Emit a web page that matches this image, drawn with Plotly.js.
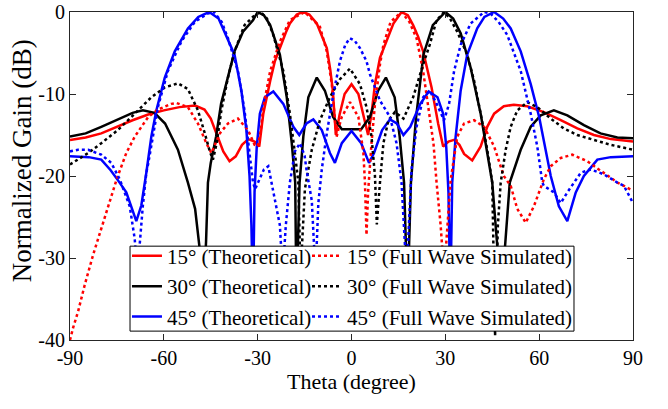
<!DOCTYPE html>
<html>
<head>
<meta charset="utf-8">
<script src="https://cdn.plot.ly/plotly-3.0.1.min.js"></script>
<style>html,body{margin:0;padding:0;background:#fff;}#chart{width:668px;height:409px;}</style>
</head>
<body>
<div id="chart"></div>
<script>
// ---- data (theta in degrees, normalized gain in dB) ----
const thetaRedTheo = [-90,-85,-80,-75,-70,-65,-60,-55,-50,-47,-45,-43,-41,-39,-37,-35,-33,-31,-29.5,-28.2,-27,-26,-24.5,-23,-21,-19.7,-17.5,-15.5,-13.5,-11.1,-9.5,-7.9,-6.8,-6.0,-5.0,-3.8,-2.2,0,2.2,3.8,5.3,6.4,7.5,9.1,10.7,13.4,16,18,19.7,21.3,22.9,24.3,25.6,27.7,29.3,31,32.8,34.5,36,38.6,41.3,43.4,45.6,48.7,51.9,56.2,61.5,66.9,72.2,77.5,82.9,90];
const gainRedTheo  = [-15.6,-15.3,-14.8,-14.0,-13.2,-12.5,-12.0,-11.6,-11.4,-11.9,-13.0,-15.0,-17.0,-18.2,-17.6,-16.2,-15.5,-15.8,-16.4,-12.4,-10.0,-8.4,-6.0,-4.4,-2.5,-1.4,-0.3,0,-0.3,-1.4,-2.8,-4.4,-7.0,-9.5,-15.0,-12.5,-10.0,-8.8,-10.0,-12.5,-15.0,-12.4,-8.8,-5.6,-4.0,-1.4,0,-0.4,-1.6,-3.0,-4.8,-7.0,-9.2,-13.6,-16.4,-15.8,-15.6,-16.2,-17.3,-18.1,-16.4,-14.0,-12.4,-11.5,-11.3,-11.5,-12.2,-13.2,-14.2,-15.0,-15.5,-15.8];

const thetaBlackTheo = [-90,-85,-80,-75,-70,-66.7,-63,-59.6,-55.5,-52.3,-50,-48.5,-47.4,-46.5,-45.9,-45,-43.3,-41.7,-39.5,-37.4,-34.7,-31.5,-30,-28,-26,-22.9,-20.7,-19.1,-18,-17.6,-16.6,-15.4,-13.8,-11.1,-8.5,-5.9,-3.1,0,3.1,5.9,8.5,11,13.8,15.4,16.8,17.9,19,20.6,23,26,30,32.5,34.9,38.1,41.3,43.4,45,46.5,47.8,49.2,50.6,54.1,57.3,60.5,64.7,69,74.3,79.6,85,90];
const gainBlackTheo  = [-15.2,-14.8,-14.0,-13.1,-12.3,-12.0,-12.3,-13.6,-16.8,-20.8,-24.0,-29.0,-35.0,-28.0,-20.8,-18.4,-15.2,-11.2,-8.0,-4.8,-2.4,-1.0,0,-0.4,-1.6,-5.2,-10.4,-16.0,-20.8,-35.0,-20.8,-15.2,-10.4,-8.0,-9.6,-12.8,-14.3,-14.3,-14.3,-12.8,-9.6,-8.0,-10.4,-15.2,-20.8,-35.0,-20.8,-13.0,-5.2,-1.6,0,-0.8,-2.6,-6.8,-12.4,-17.2,-20.8,-28.0,-35.0,-28.0,-20.8,-16.8,-14.0,-12.6,-12.0,-12.6,-13.8,-14.8,-15.3,-15.4];

const thetaBlueTheo = [-90,-84,-80,-77,-74.7,-72,-68.8,-67.2,-65.6,-64,-62.4,-59.7,-56.5,-52.3,-49,-45.5,-42.5,-40.6,-37.4,-35.2,-33.6,-32.6,-32,-31.5,-31,-30.3,-29.3,-27.7,-25,-21.8,-18.6,-16.7,-14.4,-12.2,-9.5,-6.9,-5.3,-3.1,0,3.1,5.6,7.2,9.8,12.3,14.5,16.6,18.8,22,24.7,27.5,29.3,30.3,31,31.6,32.2,33.3,34.9,37,40.2,42.5,45.6,48.5,50.9,54.1,57.3,60,62.1,63.7,66.3,69,71.7,74.3,78.6,82.9,90];
const gainBlueTheo  = [-17.6,-17.7,-18.0,-19.3,-20.5,-22.0,-25.5,-23.6,-19.6,-15.2,-12.0,-8.0,-4.8,-2.0,-0.6,0,-0.8,-2.4,-5.2,-9.6,-14.4,-20.0,-26.0,-35.0,-22.0,-16.5,-12.4,-10.4,-9.7,-11.2,-14.0,-15.0,-13.6,-13.1,-14.4,-17.2,-18.4,-16.0,-14.5,-16.0,-18.4,-17.2,-14.4,-13.1,-13.6,-15.0,-14.0,-11.2,-9.7,-10.4,-12.4,-16.5,-22.0,-35.0,-20.8,-15.2,-9.6,-5.2,-2.0,-0.6,0,-0.8,-2.0,-4.8,-8.8,-12.8,-16.8,-20.0,-23.7,-25.5,-22.0,-20.0,-18.0,-17.7,-17.6];

const thetaRedSim = [-90,-89,-87.4,-85.3,-82.6,-80,-77.3,-75,-72,-69.3,-65,-61.9,-57.6,-56,-52.3,-49.1,-46.4,-44.8,-42.1,-39.5,-36.3,-33.1,-31,-30,-29,-28.2,-26,-22.9,-19.7,-15,-10.1,-7.9,-6.3,-5.5,-4.8,-4,-3.1,-0.5,2.2,3.8,4.3,4.8,5.3,6.4,7.5,9.1,10.2,12.5,16,18.5,20.8,22.9,24.5,26.2,27.2,28.5,29.6,30.8,31.7,33.8,36,39.2,42.4,45.6,48.7,50.9,53,55.7,58.3,61.5,63.7,66.9,70.6,75.4,80.7,85,87.1,90];
const gainRedSim  = [-40.0,-38.5,-36.5,-33.3,-29.6,-26.5,-23.3,-20.3,-17.2,-15.2,-12.8,-11.9,-11.2,-11.1,-11.6,-13.6,-16.0,-17.2,-14.8,-13.6,-13.0,-14.4,-16.2,-16.4,-14.5,-11.6,-7.2,-3.6,-1.0,0,-1.8,-4.8,-8.8,-12.0,-15.3,-14.0,-12.8,-11.0,-12.8,-17.2,-20.8,-27.2,-22.0,-16.0,-11.2,-6.4,-4.0,-1.2,0,-1.2,-3.2,-7.2,-11.2,-16.0,-20.8,-26.0,-32.0,-26.0,-20.5,-15.2,-13.6,-13.2,-14.0,-16.4,-20.0,-21.2,-24.0,-25.7,-23.7,-20.4,-18.8,-17.8,-17.4,-18.2,-19.6,-20.8,-21.2,-21.8];

const thetaBlackSim = [-90,-87.4,-84.2,-80,-74.7,-69.3,-64,-59.7,-55.5,-52.3,-49.1,-46.9,-45.3,-44.3,-43.1,-41.6,-39.5,-37.4,-34.2,-31,-29,-27,-25,-21.8,-19.7,-18.1,-17,-16.3,-15.5,-14.9,-12.7,-10.1,-6.9,-3.7,-0.5,2.7,4.8,6.4,7.5,8.1,9.1,10.2,11.8,13.9,16.6,19.7,22.9,25,27.2,29.6,31.5,33.8,37,39.2,41.3,43.4,45,45.9,46.8,47.7,49.3,50.9,53,56.2,59.4,63.7,67.9,72.2,77.5,82.9,90];
const gainBlackSim  = [-18.6,-18.0,-17.2,-16.0,-14.4,-12.4,-10.4,-9.2,-8.7,-9.4,-12.0,-14.8,-17.0,-18.0,-16.0,-12.0,-8.0,-4.8,-1.6,-0.4,0,-0.8,-2.8,-7.2,-12.4,-17.2,-20.8,-32.0,-25.0,-21.6,-16.8,-13.2,-10.4,-8.2,-6.9,-8.8,-11.6,-15.2,-20.0,-25.9,-20.8,-16.0,-13.2,-12.2,-13.0,-10.4,-6.4,-4.0,-1.0,0,-0.8,-2.4,-5.2,-8.4,-12.4,-16.8,-20.8,-39.5,-26.0,-20.8,-16.8,-14.0,-12.0,-11.0,-11.6,-13.0,-14.2,-15.0,-15.6,-16.2,-16.8];

const thetaBlueSim = [-90,-87.4,-84.2,-80,-76.8,-74.1,-70.9,-69.3,-68.5,-67.7,-66.7,-65.6,-65,-63.5,-61.9,-58.7,-54.4,-50.1,-46,-44,-41.5,-39.5,-36.3,-34.2,-32.6,-31.5,-30.8,-29.5,-28,-26.6,-25,-22.9,-22,-21,-19.7,-18.1,-16.5,-15,-14.4,-12.7,-11.5,-10.6,-9.5,-7.9,-5.8,-3.7,-2,-0.5,1,2.7,4.8,5.9,9.1,12.3,14.4,16,17.6,18.7,19.2,20.8,22.9,25,27,29.6,31.2,32.8,34.9,38.1,42.4,44.5,47,49.8,54.1,57.3,59.4,61,61.5,64.7,66.9,69,72.2,73.3,76.5,80.7,85,87.1,90];
const gainBlueSim  = [-17.0,-16.8,-16.8,-17.4,-18.4,-20.4,-23.7,-27.7,-32.0,-27.7,-23.6,-19.6,-18.5,-15.2,-11.6,-7.2,-3.6,-1.2,-0.2,0,-1.2,-3.2,-7.2,-12.0,-16.8,-20.8,-21.6,-20.5,-19.2,-18.8,-22.0,-26.0,-32.0,-26.0,-20.8,-17.0,-16.0,-17.5,-19.2,-23.0,-32.0,-23.3,-19.2,-14.8,-10.0,-6.0,-4.0,-3.2,-3.5,-4.4,-6.0,-7.6,-10.8,-12.8,-16.0,-20.8,-32.0,-22.0,-19.2,-14.0,-10.4,-9.6,-11.0,-13.2,-11.2,-7.2,-4.0,-1.4,0,-0.2,-1.2,-2.8,-7.2,-12.4,-16.4,-20.8,-21.2,-22.0,-23.3,-22.0,-20.2,-19.6,-19.2,-19.8,-20.8,-21.2,-23.3];

const seriesNames = ['15° (Theoretical)','30° (Theoretical)','45° (Theoretical)','15° (Full Wave Simulated)','30° (Full Wave Simulated)','45° (Full Wave Simulated)'];
const xTickVals = [-90,-60,-30,0,30,60,90];
const xTickText = ['-90','-60','-30','0','30','60','90'];
const yTickVals = [-40,-30,-20,-10,0];
const yTickText = ['-40','-30','-20','-10','0'];

const RED='#ff0000', BLACK='#000000', BLUE='#0000ff';
const FONT='Liberation Serif, Times New Roman, serif';

function tr(x,y,name,color,dash,legend){
  return {x:x,y:y,name:name,type:'scatter',mode:'lines',
    line:{color:color,width:2.5,dash:dash},legend:legend,hoverinfo:'skip'};
}
const data = [
  tr(thetaRedTheo,gainRedTheo,seriesNames[0],RED,'solid','legend'),
  tr(thetaBlackTheo,gainBlackTheo,seriesNames[1],BLACK,'solid','legend'),
  tr(thetaBlueTheo,gainBlueTheo,seriesNames[2],BLUE,'solid','legend'),
  tr(thetaRedSim,gainRedSim,seriesNames[3],RED,'dot','legend2'),
  tr(thetaBlackSim,gainBlackSim,seriesNames[4],BLACK,'dot','legend2'),
  tr(thetaBlueSim,gainBlueSim,seriesNames[5],BLUE,'dot','legend2')
];

const axisCommon = {showline:true,mirror:'allticks',linecolor:'#262626',linewidth:1,
  ticks:'inside',ticklen:6,tickcolor:'#262626',showgrid:false,zeroline:false,
  ticklabeloverflow:'allow',
  tickfont:{family:FONT,size:20,color:'#000'}};

const legendCommon = {orientation:'v',yanchor:'top',xanchor:'left',bgcolor:'rgba(0,0,0,0)',
  borderwidth:0,font:{family:FONT,size:21,color:'#000'},traceorder:'normal'};

const layout = {
  width:668,height:409,
  margin:{l:70,r:35,t:12,b:69},
  paper_bgcolor:'#fff',plot_bgcolor:'#fff',
  xaxis:Object.assign({range:[-90,90],tickmode:'array',tickvals:xTickVals,ticktext:xTickText,
    title:{text:'Theta (degree)',font:{family:FONT,size:22,color:'#000'},standoff:5}},axisCommon),
  yaxis:Object.assign({range:[-40,0],tickmode:'array',tickvals:yTickVals,ticktext:yTickText},axisCommon),
  legend:Object.assign({x:0.1012,y:0.318},legendCommon),
  legend2:Object.assign({x:0.4210,y:0.318},legendCommon),
  shapes:[{type:'rect',xref:'paper',yref:'paper',x0:0.1066,x1:0.8952,y0:0.0271,y1:0.2861,
    line:{color:'#000',width:1},fillcolor:'#fff',layer:'above'}],
  annotations:[{text:'Normalized Gain (dB)',xref:'paper',yref:'paper',x:-0.0853,y:0.548,
    textangle:-90,showarrow:false,font:{family:FONT,size:27,color:'#000'},xanchor:'center',yanchor:'middle'}],
  showlegend:true
};

Plotly.newPlot('chart',data,layout,{displayModeBar:false,staticPlot:true});
</script>
</body>
</html>
